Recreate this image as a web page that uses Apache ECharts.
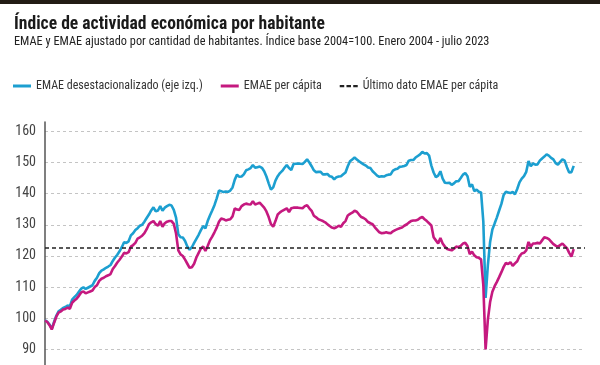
<!DOCTYPE html>
<html>
<head>
<meta charset="utf-8">
<script src="https://cdn.jsdelivr.net/npm/echarts@6/dist/echarts.min.js"></script>
<style>
html,body{margin:0;padding:0;background:#fff;}
#c{width:600px;height:365px;}
</style>
</head>
<body>
<div id="c"></div>
<script>
// ---- Data (monthly, Jan 2004 - Jul 2023) ----
const startYear = 2004;
const axisMonths = 240; // axis runs Jan 2004 - Dec 2023

const emaeDesest = [
  // 2004
  99.3, 98.9, 98.0, 96.6, 98.8, 100.8, 102.2, 102.7, 103.3, 103.6, 104.1, 103.8,
  // 2005
  106.0, 106.8, 107.5, 108.5, 109.5, 109.9, 109.4, 109.8, 110.2, 110.6, 112.0, 113.0,
  // 2006
  114.5, 115.3, 115.7, 116.2, 116.6, 117.1, 118.4, 119.5, 120.4, 121.5, 122.8, 124.4,
  // 2007
  124.2, 124.7, 126.6, 127.3, 128.3, 128.9, 129.7, 130.0, 131.0, 132.2, 133.3, 134.6,
  // 2008
  135.6, 134.3, 134.6, 136.0, 134.5, 135.5, 136.0, 136.4, 136.2, 134.8, 132.3, 127.0,
  // 2009
  126.0, 125.9, 124.8, 123.0, 122.0, 122.8, 124.2, 125.5, 126.8, 128.3, 129.6, 128.9,
  // 2010
  131.2, 133.0, 134.6, 136.3, 138.5, 141.0, 140.8, 140.5, 140.7, 140.6, 141.0, 142.0,
  // 2011
  144.5, 146.1, 145.4, 145.5, 146.2, 147.5, 147.8, 148.2, 149.2, 148.3, 148.5, 148.7,
  // 2012
  148.3, 147.2, 145.5, 143.3, 141.3, 142.0, 144.2, 145.6, 146.6, 147.3, 148.3, 149.2,
  // 2013
  148.2, 147.6, 149.5, 149.6, 149.7, 149.6, 149.5, 150.2, 151.0, 150.0, 148.8, 147.5,
  // 2014
  146.9, 147.0, 147.0, 146.2, 146.2, 146.3, 145.6, 145.4, 144.6, 145.3, 145.5, 145.6,
  // 2015
  146.2, 146.8, 148.8, 150.4, 151.0, 151.6, 151.0, 150.4, 149.9, 149.4, 149.0, 148.4,
  // 2016
  148.2, 147.2, 146.5, 145.8, 145.4, 145.6, 145.5, 145.9, 146.1, 146.2, 147.4, 147.8,
  // 2017
  148.0, 148.6, 148.7, 148.9, 149.2, 150.6, 150.8, 150.8, 151.6, 152.1, 152.6, 153.4,
  // 2018
  152.9, 153.0, 152.2, 149.0, 146.8, 145.3, 145.8, 147.2, 144.8, 143.5, 143.4, 143.5,
  // 2019
  142.8, 143.3, 144.0, 144.0, 145.0, 146.1, 146.6, 145.6, 142.2, 143.0, 140.8, 141.3,
  // 2020
  140.6, 140.4, 131.0, 106.5, 117.0, 124.5, 128.5, 130.4, 132.4, 134.6, 136.7, 139.6,
  // 2021
  140.6, 140.4, 140.2, 140.6, 139.8, 141.5, 143.6, 144.8, 145.6, 147.0, 150.5, 148.8,
  // 2022
  149.7, 149.3, 149.4, 150.6, 151.3, 151.9, 152.6, 152.2, 151.5, 151.0, 149.8, 149.3,
  // 2023
  150.2, 151.0, 150.6, 148.5, 146.8, 146.9, 148.9
];

const emaePerCapita = [
  // 2004
  99.3, 98.8, 97.8, 96.4, 98.5, 100.5, 101.8, 102.2, 102.8, 103.0, 103.4, 103.0,
  // 2005
  105.0, 105.7, 106.3, 107.2, 108.3, 108.6, 108.0, 108.3, 108.6, 108.9, 110.0, 110.6,
  // 2006
  112.0, 112.7, 113.0, 113.5, 113.8, 114.2, 115.8, 116.8, 117.9, 118.8, 119.8, 121.0,
  // 2007
  120.8, 121.2, 123.0, 123.5, 124.2, 125.6, 126.0, 126.5, 127.3, 128.6, 130.2, 130.8,
  // 2008
  131.2, 130.2, 129.7, 131.2, 129.4, 130.5, 131.0, 131.2, 131.2, 130.3, 127.2, 121.8,
  // 2009
  120.5, 120.0, 118.8, 117.5, 116.2, 116.4, 117.5, 119.5, 121.0, 122.4, 123.0, 121.6,
  // 2010
  123.2, 125.0, 126.2, 127.6, 129.1, 131.0, 132.0, 131.8, 131.4, 131.6, 131.8, 132.7,
  // 2011
  135.3, 134.9, 134.8, 136.0, 136.5, 136.8, 136.6, 136.5, 137.6, 136.5, 136.8, 137.1,
  // 2012
  136.3, 135.5, 134.3, 132.5, 130.2, 129.4, 131.2, 133.3, 134.0, 134.5, 134.9, 135.3,
  // 2013
  134.1, 135.3, 135.5, 135.5, 135.5, 135.4, 135.3, 136.0, 136.3, 135.3, 134.5, 132.9,
  // 2014
  132.4, 131.8, 131.5, 131.2, 130.8, 130.2, 129.6, 129.1, 128.9, 129.2, 129.7, 129.4,
  // 2015
  130.5, 131.2, 133.0, 133.5, 133.9, 134.5, 134.2, 133.3, 132.5, 132.2, 131.7, 130.9,
  // 2016
  130.5, 130.2, 129.2, 128.4, 127.6, 127.3, 127.4, 127.6, 127.4, 127.3, 127.9, 128.3,
  // 2017
  128.6, 128.9, 129.1, 129.7, 130.1, 130.7, 131.2, 131.4, 131.4, 131.6, 132.2, 132.5,
  // 2018
  131.8, 131.2, 130.5, 129.8, 126.0, 125.0, 124.0, 125.8, 124.0, 123.0, 122.2, 122.0,
  // 2019
  121.8, 122.3, 123.0, 122.8, 123.2, 124.0, 124.2, 123.2, 120.6, 121.4, 120.2, 119.6,
  // 2020
  119.4, 118.9, 110.6, 90.0, 99.5, 105.2, 108.5, 110.3, 111.7, 113.2, 114.8, 116.5,
  // 2021
  117.8, 117.4, 118.0, 116.8, 117.6, 118.3, 119.9, 120.8, 121.0, 121.8, 124.5, 123.0,
  // 2022
  124.0, 124.0, 124.2, 124.0, 125.0, 126.0, 125.8, 125.4, 124.6, 123.8, 123.3, 123.0,
  // 2023
  123.5, 124.0, 123.2, 122.5, 121.0, 119.8, 122.2
];

const ultimoDato = 122.6;
const yTickLabels = [90, 100, 110, 120, 130, 140, 150, 160];

const seriesNames = ['EMAE desestacionalizado (eje izq.)', 'EMAE per cápita', 'Último dato EMAE per cápita'];
const titleText = 'Índice de actividad económica por habitante';
const subtitleText = 'EMAE y EMAE ajustado por cantidad de habitantes. Índice base 2004=100. Enero 2004 - julio 2023';

// ---- Build categories ----
const categories = [];
for (let k = 0; k < axisMonths; k++) {
  const y = startYear + Math.floor(k / 12);
  const m = (k % 12) + 1;
  categories.push(y + '-' + (m < 10 ? '0' + m : m));
}

const FONT = '"Roboto Condensed", Roboto, sans-serif';
const chart = echarts.init(document.getElementById('c'), null, {renderer: 'canvas'});

chart.setOption({
  animation: false,
  backgroundColor: '#ffffff',
  graphic: [
    {type: 'rect', left: 0, top: 0, shape: {width: 600, height: 4}, style: {fill: '#221c15'}}
  ],
  title: {
    text: titleText,
    subtext: subtitleText,
    left: 14,
    top: 16,
    padding: 0,
    itemGap: 2,
    textStyle: {fontFamily: FONT, fontSize: 17.6, fontWeight: 'bold', color: '#1a1a1a'},
    subtextStyle: {fontFamily: FONT, fontSize: 12.3, color: '#222'}
  },
  legend: {
    left: 13,
    top: 80,
    padding: 0,
    itemWidth: 18,
    itemHeight: 3,
    itemGap: 18,
    textStyle: {fontFamily: FONT, fontSize: 12, color: '#333'},
    data: [
      {name: seriesNames[0], icon: 'rect'},
      {name: seriesNames[1], icon: 'rect'},
      {name: seriesNames[2], icon: 'path://M0,0h4v2h-4z M6,0h4v2h-4z M12,0h4v2h-4z'}
    ]
  },
  grid: {left: 45, right: 15, top: 122, height: 252.5, containLabel: false},
  xAxis: {
    type: 'category',
    data: categories,
    boundaryGap: false,
    axisLine: {show: false},
    axisTick: {show: false},
    axisLabel: {show: false},
    splitLine: {show: false}
  },
  yAxis: {
    type: 'value',
    min: 85,
    max: 163,
    interval: 5,
    axisLine: {show: true, lineStyle: {color: '#555', width: 1.5}},
    axisTick: {show: false},
    axisLabel: {
      margin: 9,
      fontFamily: FONT,
      fontSize: 14,
      color: '#444',
      formatter: function (v) { return yTickLabels.indexOf(v) >= 0 ? String(v) : ''; }
    },
    splitLine: {
      show: true,
      lineStyle: {color: ['rgba(0,0,0,0)', '#c4c4c4'], type: [3, 3], width: 1}
    }
  },
  series: [
    {
      name: seriesNames[0],
      type: 'line',
      data: emaeDesest,
      showSymbol: false,
      symbol: 'none',
      color: '#1c9fd0',
      lineStyle: {width: 2.6, color: '#1c9fd0'},
      z: 3
    },
    {
      name: seriesNames[1],
      type: 'line',
      data: emaePerCapita,
      showSymbol: false,
      symbol: 'none',
      color: '#c5197f',
      lineStyle: {width: 2.6, color: '#c5197f'},
      z: 4
    },
    {
      name: seriesNames[2],
      type: 'line',
      data: [],
      color: '#222',
      lineStyle: {type: [4, 3], color: '#222', width: 1.5},
      markLine: {
        silent: true,
        symbol: 'none',
        label: {show: false},
        lineStyle: {type: [4, 3], color: '#222', width: 1.5},
        data: [{yAxis: ultimoDato}]
      },
      z: 2
    }
  ]
});
</script>
</body>
</html>
